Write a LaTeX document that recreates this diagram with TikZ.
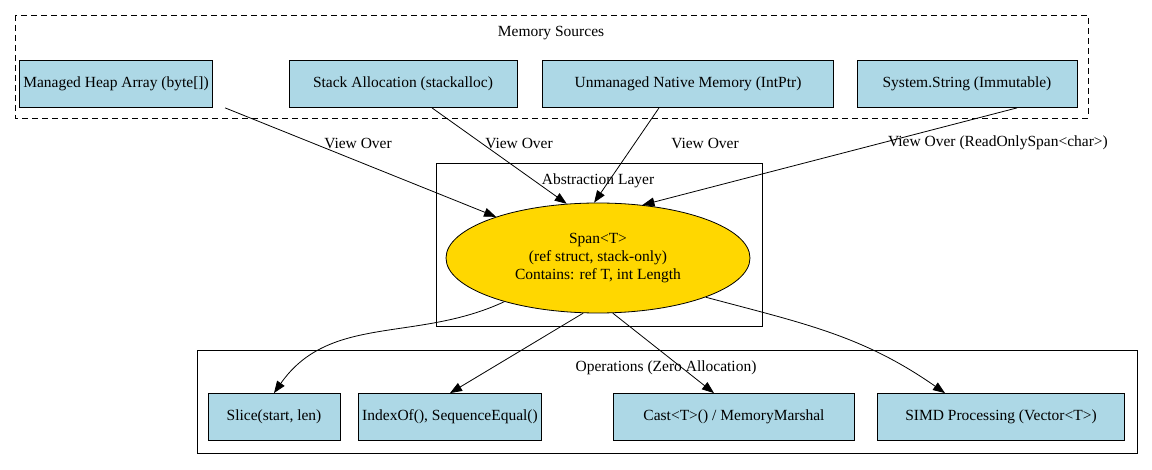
\documentclass[tikz,border=0pt]{standalone}
\usepackage{fontspec}
\setmainfont{Liberation Serif}
\usetikzlibrary{arrows.meta,shapes.geometric,positioning}
\tikzset{
	src/.style={
		rectangle,
		draw=black,
		line width=0.8pt,
		fill={rgb,255:red,173;green,216;blue,230},
		minimum height=47pt,
		inner xsep=4pt
	},
	cluster/.style={
		draw=black,
		line width=0.8pt
	},
	flow/.style={
		-{Triangle[length=12pt,width=9pt]},
		line width=0.8pt
	}
}

\begin{document}
\begin{tikzpicture}[x=1pt,y=-1pt,font=\fontsize{15.5}{18}\selectfont]
	\useasboundingbox (0,0) rectangle (1152,470);

	%%% Clusters
	\draw[cluster,dash pattern=on 6pt off 4pt] (15,15) rectangle (1088,118);
	\node at (551,33) {Memory Sources};
	\draw[cluster] (436,163) rectangle (762,326);
	\node at (598,181) {Abstraction Layer};
	\draw[cluster] (197,350) rectangle (1137,453);
	\node at (666,368) {Operations (Zero Allocation)};

	%%% Nodes
	%% Sources
	\node at (116,84) [src,minimum width=183pt] (heap) {Managed Heap Array (byte[])};
	\node at (403,84) [src,minimum width=228pt] (stack) {Stack Allocation (stackalloc)};
	\node at (688,84) [src,minimum width=291pt] (native) {Unmanaged Native Memory (IntPtr)};
	\node at (967,84) [src,minimum width=220pt] (string) {System.String (Immutable)};

	%% Span
	\node at (598,258) [ellipse,draw,line width=0.8pt,fill={rgb,255:red,255;green,215;blue,0},
		minimum width=304pt,minimum height=110pt,align=center,inner sep=0pt] (span)
		{Span<T>\\(ref struct, stack-only)\\Contains: ref T, int Length};

	%% Operations
	\node at (274,417) [src,minimum width=132pt] (slice) {Slice(start, len)};
	\node at (450,417) [src,minimum width=173pt] (index) {IndexOf(), SequenceEqual()};
	\node at (734,417) [src,minimum width=241pt] (cast) {Cast<T>() / MemoryMarshal};
	\node at (1001,417) [src,minimum width=247pt] (simd) {SIMD Processing (Vector<T>)};

	%%% Connections
	\draw[flow] (heap.south east) ++(12,0) coordinate (h0) (h0) -- (span.158);
	\draw[flow] (stack.south) ++(29,0) coordinate (s0) (s0) -- (span.120);
	\draw[flow] (native.south) ++(-29,0) coordinate (n0) (n0) -- (span.94);
	\draw[flow] (string.south) ++(50,0) coordinate (t0) (t0) -- (span.50);
	\node at (358,143) {View Over};
	\node at (519,143) {View Over};
	\node at (705,143) {View Over};
	\node at (998,143) {View Over (ReadOnlySpan<char>)};

	\draw[flow] (span.205) to[out=-155,in=55] (slice.north);
	\draw[flow] (span.255) -- (index.north);
	\draw[flow] (span.285) -- (cast.north -| 714,0);
	\draw[flow] (span.340) to[out=-15,in=145] (simd.north -| 945,0);
\end{tikzpicture}
\end{document}
